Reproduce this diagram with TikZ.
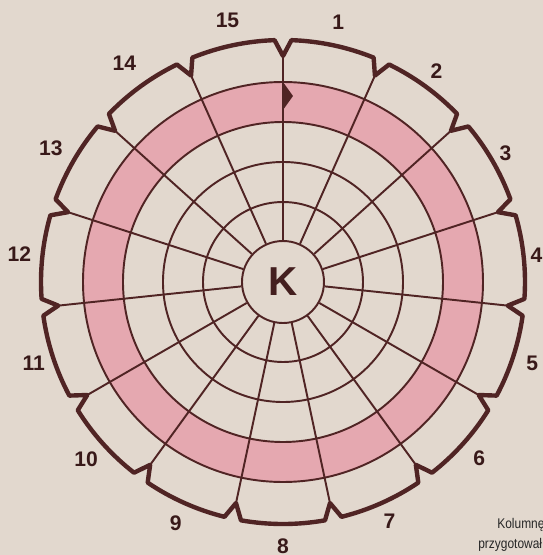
\documentclass[tikz,border=0pt]{standalone}
\usepackage{fontspec}
\setsansfont{Liberation Sans}
\newfontfamily\narrowsans[FakeStretch=0.85]{Liberation Sans}
\definecolor{paper}{RGB}{226,216,206}
\definecolor{ink}{RGB}{80,36,36}
\definecolor{ringpink}{RGB}{229,168,176}
\begin{document}
\begin{tikzpicture}[x=0.02cm, y=0.02cm, line join=round,
		grid/.style={ink, line width=1.1pt},
		rim/.style={ink, line width=2.5pt},
		num/.style={font=\sffamily\bfseries\fontsize{12}{14}\selectfont, text=ink!70!black},
		credit/.style={anchor=base west, inner sep=0pt, font=\narrowsans\fontsize{8}{9}\selectfont, text=black!85}]
	% 1. 纸面
	\useasboundingbox (-283,-273) rectangle (260,282);
	\clip (-283,-273) rectangle (260,282);
	\fill[paper] (-283,-273) rectangle (260,282);
	
	% 2. 粉色环 + 同心圆
	\fill[ringpink, even odd rule] (0,0) circle[radius=200] (0,0) circle[radius=160];
	\foreach \r in {80,120,160,200}
		\draw[grid] (0,0) circle[radius=\r];
	\node[circle, draw=ink, line width=1.1pt, minimum size=1.64cm, inner sep=0pt, text=ink!85!black,
		font=\sffamily\bfseries\fontsize{23}{25}\selectfont] (kk) {K};
	
	% 3. 辐条与外框
	\foreach \a [evaluate=\a as \b using {int(90-24*\a)}] in {0,...,14}
		\draw[grid] (kk.\b) -- (\b:226);
	\draw[rim] (90:226) \foreach \a in {0,...,14} {
		-- ({88-24*\a}:242) arc[start angle={88-24*\a}, end angle={68-24*\a}, radius=242] -- ({66-24*\a}:226)
	} -- cycle;
	\fill[ink] (0,200) -- (10,186) -- (0,172) -- cycle;
	
	% 4. 编号
	\foreach \n/\r in {1/266, 2/261, 3/257, 4/255, 5/262, 6/264, 7/262, 8/264,
			9/264, 10/265, 11/262, 12/265, 13/268, 14/270, 15/267}
		\node[num] (n\n) at ({102-24*\n}:\r) {\n};
	
	\node[credit] (credit1) at (214,-246) {Kolumnę};
	\node[credit] (credit2) at (195,-266) {przygotował};
\end{tikzpicture}
\end{document}
